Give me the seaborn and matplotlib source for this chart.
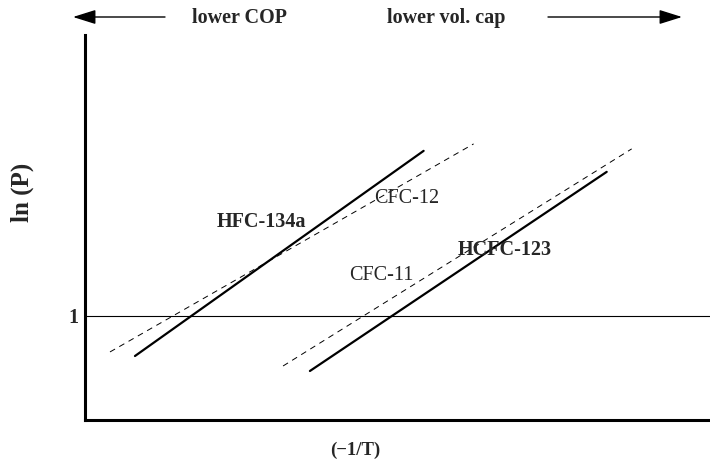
#Vapour pressure sketch: ln(P) vs (-1/T) for four refrigerants
import numpy as np
import pandas as pd
import seaborn as sns
import matplotlib.pyplot as plt

#Line end points (x in arbitrary -1/T units, y in ln(P) units)
refrigerants = ['HFC-134a', 'CFC-12', 'CFC-11', 'HCFC-123']
x_start = [0.80, 0.40, 3.17, 3.60]
x_end = [5.42, 6.22, 8.75, 8.35]
y_start = [0.615, 0.654, 0.519, 0.471]
y_end = [2.587, 2.654, 2.606, 2.385]
ref_level = 1

#Label positions and styles for each refrigerant
label_x = [2.83, 5.15, 4.75, 6.72]
label_y = [1.90, 2.13, 1.39, 1.63]
label_weight = ['bold', 'normal', 'normal', 'bold']

rows = []
for name, x0, x1, y0, y1 in zip(refrigerants, x_start, x_end, y_start, y_end):
    rows.append({'refrigerant': name, 'x': x0, 'y': y0})
    rows.append({'refrigerant': name, 'x': x1, 'y': y1})
lines_df = pd.DataFrame(rows)

sns.set_style('white')
plt.rcParams['font.family'] = ['Liberation Serif', 'DejaVu Serif']

fig = plt.figure(figsize=(7.1, 4.7), dpi=100)
ax = fig.add_axes([0.1197, 0.1064, 0.880, 0.819])

styles = {'HFC-134a': ('-', 1.6), 'CFC-12': ((0, (6, 5)), 0.7),
          'CFC-11': ((0, (6, 5)), 0.7), 'HCFC-123': ('-', 1.6)}
for name in refrigerants:
    ls, lw = styles[name]
    sns.lineplot(data=lines_df[lines_df['refrigerant'] == name], x='x', y='y',
                 ax=ax, color='black', linestyle=ls, linewidth=lw, legend=False)

ax.axhline(ref_level, color='black', linewidth=0.8)

for name, lx, ly, w in zip(refrigerants, label_x, label_y, label_weight):
    ax.text(lx, ly, name, fontsize=14.5, fontweight=w, ha='center', va='center')

ax.set_xlim(0, 10)
ax.set_ylim(0, 3.70)
ax.set_xticks([])
ax.set_yticks([ref_level])
ax.set_yticklabels(['1'], fontsize=14.5, fontweight='bold')
ax.tick_params(axis='y', length=0, pad=5)
ax.set_xlabel('')
ax.set_ylabel('')
for side in ['top', 'right']:
    ax.spines[side].set_visible(False)
for side in ['left', 'bottom']:
    ax.spines[side].set_linewidth(2.2)
    ax.spines[side].set_color('black')

#axis titles and top annotations in figure coordinates
fig.text(22 / 710, 1 - 192 / 470, 'ln (P)', rotation=90, fontsize=18,
         fontweight='bold', ha='center', va='center')
fig.text(355 / 710, 1 - 450 / 470, '(\u22121/T)', fontsize=13.5,
         fontweight='bold', ha='center', va='center')
fig.text(240 / 710, 1 - 18 / 470, 'lower COP', fontsize=14.5,
         fontweight='bold', ha='center', va='center')
fig.text(446 / 710, 1 - 18 / 470, 'lower vol. cap', fontsize=14.5,
         fontweight='bold', ha='center', va='center')
arrow_style = dict(arrowstyle='-|>,head_length=0.7,head_width=0.22', color='black',
                   lw=1.0, mutation_scale=20, shrinkA=0, shrinkB=0)
fig.add_artist(plt.Annotation('', xy=(73 / 710, 1 - 17 / 470), xytext=(165 / 710, 1 - 17 / 470),
                              xycoords='figure fraction', textcoords='figure fraction',
                              arrowprops=arrow_style))
fig.add_artist(plt.Annotation('', xy=(682 / 710, 1 - 17 / 470), xytext=(548 / 710, 1 - 17 / 470),
                              xycoords='figure fraction', textcoords='figure fraction',
                              arrowprops=arrow_style))

fig.savefig('out.png', dpi=100)
